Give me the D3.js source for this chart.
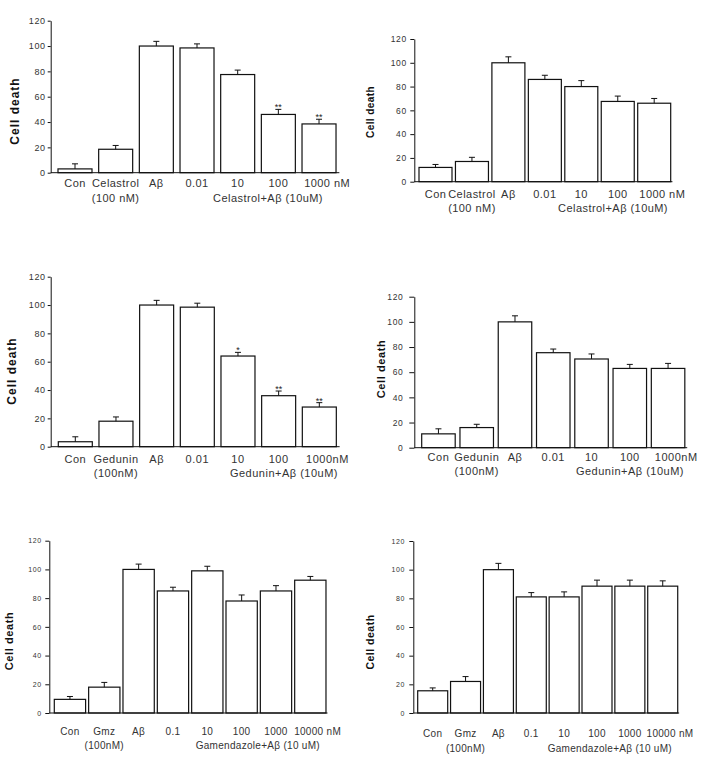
<!DOCTYPE html>
<html>
<head>
<meta charset="utf-8">
<script src="https://cdn.jsdelivr.net/npm/d3@7"></script>
<style>
  html, body { margin: 0; padding: 0; background: #fff; }
  svg { display: block; }
</style>
</head>
<body>
<svg id="chart" width="708" height="762"></svg>
<script>
// ---------------- DATA ----------------
const yTicks = [0, 20, 40, 60, 80, 100, 120];

// Panel 1 (top-left): Celastrol
const cel1Categories = ["Con", "Celastrol", "Aβ", "0.01", "10", "100", "1000 nM"];
const cel1Values = [3, 18.5, 100, 98.5, 77.5, 46, 38.5];
const cel1Errors = [4, 3, 3.7, 3.2, 3.5, 4, 3.7];
const cel1Marks = ["", "", "", "", "", "**", "**"];
const cel1SubLabels = ["(100 nM)", "Celastrol+Aβ (10uM)"];

// Panel 2 (top-right): Celastrol
const cel2Categories = ["Con", "Celastrol", "Aβ", "0.01", "10", "100", "1000 nM"];
const cel2Values = [12, 17, 100, 86, 80, 67.5, 66];
const cel2Errors = [2.5, 3.5, 5, 3.5, 5, 4.5, 4];
const cel2Marks = ["", "", "", "", "", "", ""];
const cel2SubLabels = ["(100 nM)", "Celastrol+Aβ (10uM)"];

// Panel 3 (middle-left): Gedunin
const ged1Categories = ["Con", "Gedunin", "Aβ", "0.01", "10", "100", "1000nM"];
const ged1Values = [3.5, 18, 100, 98.5, 64, 36, 28];
const ged1Errors = [3.5, 3, 3.3, 2.8, 2.6, 3.3, 3.1];
const ged1Marks = ["", "", "", "", "*", "**", "**"];
const ged1SubLabels = ["(100nM)", "Gedunin+Aβ (10uM)"];

// Panel 4 (middle-right): Gedunin
const ged2Categories = ["Con", "Gedunin", "Aβ", "0.01", "10", "100", "1000nM"];
const ged2Values = [11, 16, 100, 75.5, 70.5, 63, 63];
const ged2Errors = [4, 2.6, 4.8, 2.9, 4, 3.2, 4];
const ged2Marks = ["", "", "", "", "", "", ""];
const ged2SubLabels = ["(100nM)", "Gedunin+Aβ (10uM)"];

// Panel 5 (bottom-left): Gamendazole
const gmz1Categories = ["Con", "Gmz", "Aβ", "0.1", "10", "100", "1000", "10000 nM"];
const gmz1Values = [9.5, 18, 100, 85, 99, 78, 85, 92.5];
const gmz1Errors = [2, 3.3, 3.7, 2.6, 3.2, 4.2, 3.7, 2.6];
const gmz1Marks = ["", "", "", "", "", "", "", ""];
const gmz1SubLabels = ["(100nM)", "Gamendazole+Aβ (10 uM)"];

// Panel 6 (bottom-right): Gamendazole
const gmz2Categories = ["Con", "Gmz", "Aβ", "0.1", "10", "100", "1000", "10000 nM"];
const gmz2Values = [15.5, 22, 100, 81, 81, 88.5, 88.5, 88.5];
const gmz2Errors = [2, 3.4, 4.4, 3, 3.5, 4.2, 4.2, 3.7];
const gmz2Marks = ["", "", "", "", "", "", "", ""];
const gmz2SubLabels = ["(100nM)", "Gamendazole+Aβ (10 uM)"];

const yTitle = "Cell death";

// ---------------- LAYOUT ----------------
const panels = [
  { cats: cel1Categories, vals: cel1Values, errs: cel1Errors, marks: cel1Marks, subs: cel1SubLabels,
    axisX: 50.7, yBottom: 172.7, yTop: 20.7, firstLeft: 58, step: 40.67, barW: 34,
    yFont: 9, tick: 3, pad: 2, lab1: 187.5, lab2: 201.5, sub2End: 323, xFont: 11, xSp: 0.45,
    tX: 14.5, tY: 111, tFont: 12, tSp: 1 },
  { cats: cel2Categories, vals: cel2Values, errs: cel2Errors, marks: cel2Marks, subs: cel2SubLabels,
    axisX: 414.3, yBottom: 181.7, yTop: 39, firstLeft: 419, step: 36.45, barW: 33,
    yFont: 8.5, tick: 4, pad: 3.6, lab1: 198, lab2: 212, sub2End: 668, xFont: 11, xSp: 0.45,
    tX: 370, tY: 112, tFont: 10, tSp: 0.4 },
  { cats: ged1Categories, vals: ged1Values, errs: ged1Errors, marks: ged1Marks, subs: ged1SubLabels,
    axisX: 50.7, yBottom: 446.7, yTop: 276.7, firstLeft: 58.3, step: 40.67, barW: 34,
    yFont: 9, tick: 3, pad: 2, lab1: 463, lab2: 477, sub2End: 338, xFont: 11, xSp: 0.5,
    tX: 12, tY: 371, tFont: 12, tSp: 1 },
  { cats: ged2Categories, vals: ged2Values, errs: ged2Errors, marks: ged2Marks, subs: ged2SubLabels,
    axisX: 414.3, yBottom: 447.7, yTop: 296.7, firstLeft: 421.7, step: 38.27, barW: 33.5,
    yFont: 8.5, tick: 5, pad: 6, lab1: 461, lab2: 475, sub2End: 684, xFont: 11, xSp: 0.5,
    tX: 381, tY: 369, tFont: 11, tSp: 0.6 },
  { cats: gmz1Categories, vals: gmz1Values, errs: gmz1Errors, marks: gmz1Marks, subs: gmz1SubLabels,
    axisX: 49.3, yBottom: 713, yTop: 540.7, firstLeft: 54.3, step: 34.34, barW: 31.3,
    yFont: 7, tick: 4, pad: 3.6, lab1: 734.5, lab2: 749, sub2End: 320, xFont: 10, xSp: 0.3,
    tX: 9, tY: 641, tFont: 11, tSp: 0.6 },
  { cats: gmz2Categories, vals: gmz2Values, errs: gmz2Errors, marks: gmz2Marks, subs: gmz2SubLabels,
    axisX: 413.3, yBottom: 713, yTop: 541, firstLeft: 417.7, step: 32.86, barW: 30,
    yFont: 7, tick: 4, pad: 4.3, lab1: 737, lab2: 752, sub2End: 672, xFont: 10, xSp: 0.3,
    tX: 370, tY: 642, tFont: 10.5, tSp: 0.5 }
];

const FONT = "'Liberation Sans', Arial, Helvetica, sans-serif";
const svg = d3.select("#chart");
svg.append("rect").attr("width", 708).attr("height", 762).attr("fill", "#fff");

function measure(str, size, sp) {
  const t = svg.append("text").attr("font-family", FONT).attr("font-size", size)
    .attr("letter-spacing", sp).text(str);
  const w = t.node().getComputedTextLength();
  t.remove();
  return w;
}

panels.forEach(p => {
  const n = p.cats.length;
  const gapFrac = 1 - p.barW / p.step;
  const r0 = p.firstLeft - (p.step - p.barW) / 2;
  const r1 = r0 + p.step * n;
  const x = d3.scaleBand().domain(p.cats).range([r0, r1])
    .paddingInner(gapFrac).paddingOuter(gapFrac / 2);
  const y = d3.scaleLinear().domain([0, 120]).range([p.yBottom, p.yTop]);
  const g = svg.append("g");

  // bars
  g.selectAll("rect.bar").data(p.vals).join("rect")
    .attr("class", "bar")
    .attr("x", (d, i) => x(p.cats[i]))
    .attr("y", d => y(d))
    .attr("width", x.bandwidth())
    .attr("height", d => y(0) - y(d))
    .attr("fill", "#fff")
    .attr("stroke", "#111")
    .attr("stroke-width", 1.2);

  // error bars
  const cx = i => x(p.cats[i]) + x.bandwidth() / 2;
  g.selectAll("line.err").data(p.vals).join("line")
    .attr("class", "err")
    .attr("x1", (d, i) => cx(i)).attr("x2", (d, i) => cx(i))
    .attr("y1", d => y(d)).attr("y2", (d, i) => y(d + p.errs[i]))
    .attr("stroke", "#111").attr("stroke-width", 1);
  g.selectAll("line.cap").data(p.vals).join("line")
    .attr("class", "cap")
    .attr("x1", (d, i) => cx(i) - 3).attr("x2", (d, i) => cx(i) + 3)
    .attr("y1", (d, i) => y(d + p.errs[i])).attr("y2", (d, i) => y(d + p.errs[i]))
    .attr("stroke", "#111").attr("stroke-width", 1);

  // significance marks
  g.selectAll("text.mark").data(p.marks).join("text")
    .attr("class", "mark")
    .attr("x", (d, i) => cx(i))
    .attr("y", (d, i) => y(p.vals[i] + p.errs[i]) + 1)
    .attr("text-anchor", "middle")
    .attr("font-family", FONT).attr("font-size", 9).attr("fill", "#222")
    .text(d => d);

  // y axis
  const ya = g.append("g").attr("transform", `translate(${p.axisX},0)`)
    .call(d3.axisLeft(y).tickValues(yTicks).tickSize(p.tick).tickPadding(p.pad).tickSizeOuter(0));
  ya.select(".domain").attr("stroke", "#111").attr("stroke-width", 1);
  ya.selectAll(".tick line").attr("stroke", "#111");
  ya.selectAll(".tick text").attr("font-family", FONT).attr("font-size", p.yFont)
    .attr("letter-spacing", 0.6).attr("fill", "#333");

  // x axis baseline
  g.append("line")
    .attr("x1", p.axisX).attr("x2", r1)
    .attr("y1", y(0)).attr("y2", y(0))
    .attr("stroke", "#111").attr("stroke-width", 1);

  // x tick labels (a trailing unit is let to hang to the right of its bar)
  const xa = g.append("g").attr("transform", `translate(0,${y(0)})`)
    .call(d3.axisBottom(x).tickSize(0));
  xa.select(".domain").remove();
  xa.selectAll(".tick text")
    .attr("y", p.lab1 - y(0)).attr("dy", null)
    .attr("font-family", FONT).attr("font-size", p.xFont)
    .attr("letter-spacing", p.xSp).attr("fill", "#333")
    .attr("dx", d => {
      const m = /^(.*?)(\s?nM)$/.exec(d);
      if (!m) return 0;
      return measure(m[2], p.xFont, p.xSp) / 2;
    });

  // second-line labels
  g.append("text")
    .attr("x", cx(1)).attr("y", p.lab2)
    .attr("text-anchor", "middle")
    .attr("font-family", FONT).attr("font-size", p.xFont)
    .attr("letter-spacing", p.xSp).attr("fill", "#333")
    .text(p.subs[0]);
  g.append("text")
    .attr("x", p.sub2End).attr("y", p.lab2)
    .attr("text-anchor", "end")
    .attr("font-family", FONT).attr("font-size", p.xFont)
    .attr("letter-spacing", p.xSp).attr("fill", "#333")
    .text(p.subs[1]);

  // y title
  g.append("text")
    .attr("transform", `translate(${p.tX},${p.tY}) rotate(-90)`)
    .attr("text-anchor", "middle")
    .attr("dominant-baseline", "central")
    .attr("font-family", FONT).attr("font-weight", "bold")
    .attr("font-size", p.tFont).attr("letter-spacing", p.tSp).attr("fill", "#111")
    .text(yTitle);
});
</script>
</body>
</html>
